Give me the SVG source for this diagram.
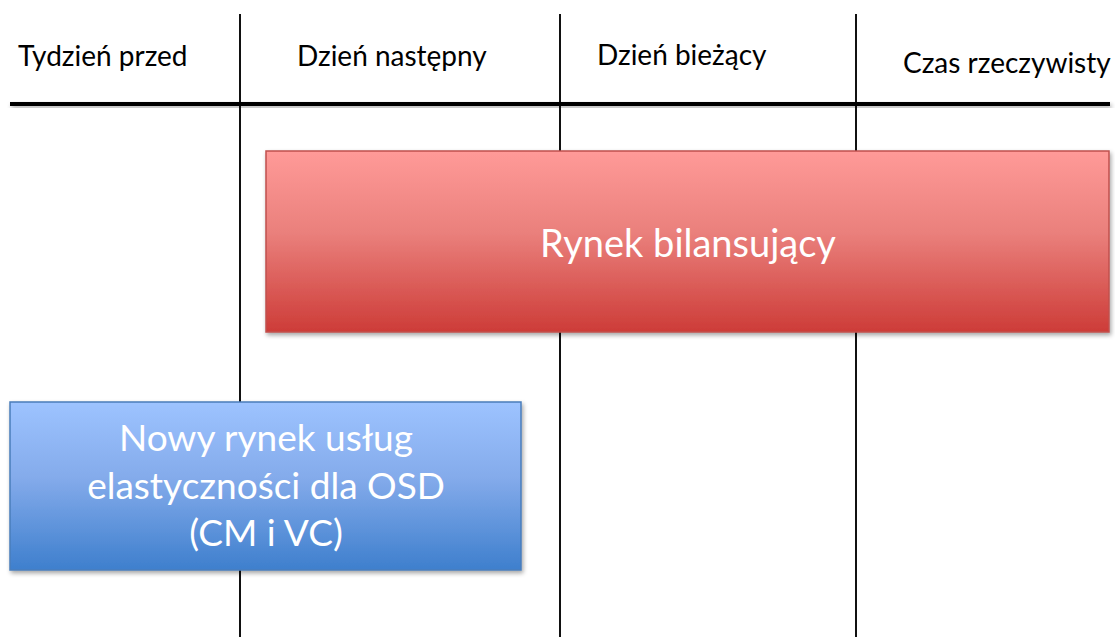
<svg xmlns="http://www.w3.org/2000/svg" width="1115" height="637" viewBox="0 0 1115 637">
<defs>
<linearGradient id="gRed" x1="0" y1="0" x2="0" y2="1">
<stop offset="0" stop-color="#ff9a98"/>
<stop offset="0.45" stop-color="#ea807c"/>
<stop offset="1" stop-color="#cd3c38"/>
</linearGradient>
<linearGradient id="gBlue" x1="0" y1="0" x2="0" y2="1">
<stop offset="0" stop-color="#9dc3ff"/>
<stop offset="0.45" stop-color="#84abeb"/>
<stop offset="1" stop-color="#3e7fcd"/>
</linearGradient>
<filter id="sh" x="-5%" y="-20%" width="110%" height="150%">
<feDropShadow dx="1.5" dy="2.5" stdDeviation="2" flood-color="#000" flood-opacity="0.35"/>
</filter>
</defs>
<style>
.hdr{font-family:Lato,"Liberation Sans",sans-serif;font-size:28px;fill:#000}
.lbl{font-family:Lato,"Liberation Sans",sans-serif;font-size:37px;fill:#fff;text-anchor:middle}
.vl{stroke:#111;stroke-width:2;fill:none}
</style>
<rect width="1115" height="637" fill="#fff"/>
<g id="connectors">
<line class="vl" x1="240" y1="14" x2="240" y2="637"/>
<line class="vl" x1="560" y1="14" x2="560" y2="637"/>
<line class="vl" x1="856" y1="14" x2="856" y2="637"/>
<rect x="10" y="102" width="1100" height="4" fill="#000" filter="url(#sh)"/>
</g>
<g id="headers">
<text class="hdr" x="18" y="66">Tydzień przed</text>
<text class="hdr" x="297" y="66">Dzień następny</text>
<text class="hdr" x="597" y="65">Dzień bieżący</text>
<text class="hdr" x="903" y="73">Czas rzeczywisty</text>
</g>
<g id="node-rynek-bilansujacy">
<rect x="266" y="151" width="843" height="181" fill="url(#gRed)" stroke="#c0504d" stroke-width="1.5" filter="url(#sh)"/>
<text class="lbl" x="688" y="257" style="font-size:38px">Rynek bilansujący</text>
</g>
<g id="node-nowy-rynek">
<rect x="10" y="402" width="511" height="168" fill="url(#gBlue)" stroke="#4a7ebb" stroke-width="1.5" filter="url(#sh)"/>
<text class="lbl" x="266" y="451">Nowy rynek usług</text>
<text class="lbl" x="266" y="499">elastyczności dla OSD</text>
<text class="lbl" x="266" y="546">(CM i VC)</text>
</g>
</svg>
